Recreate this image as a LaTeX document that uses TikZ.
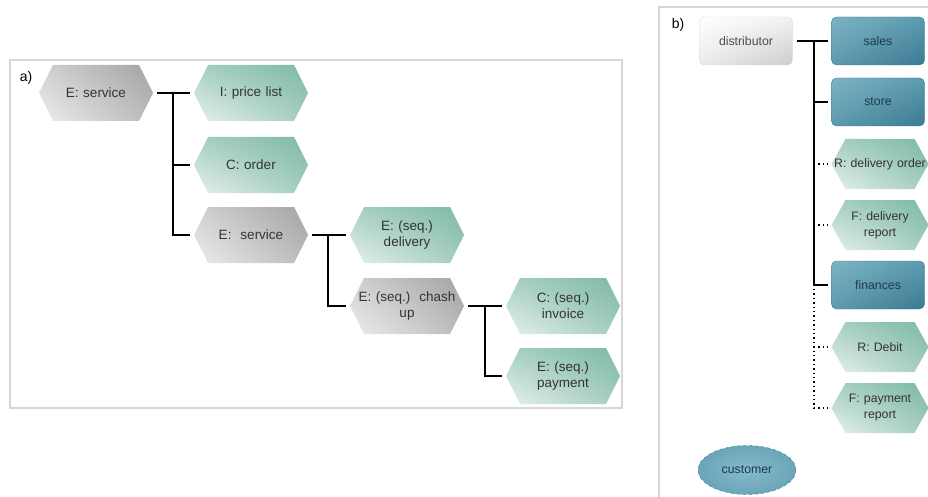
\documentclass[tikz,border=0pt]{standalone}
\usepackage{fontspec}
\setmainfont{Liberation Sans}
\usetikzlibrary{positioning,shapes.geometric,shadings}
\definecolor{epink}{HTML}{333333}
\definecolor{epframe}{HTML}{D6D6D6}
\definecolor{epnavy}{HTML}{1E3A4A}
\definecolor{epgrA}{HTML}{A8D0C2}
\definecolor{epgrB}{HTML}{7DB8A5}
\definecolor{epgrC}{HTML}{E6F1EC}
\definecolor{epgrD}{HTML}{A3CCBE}
\definecolor{epblA}{HTML}{7DB3C4}
\definecolor{epblB}{HTML}{5C9BB0}
\definecolor{epblC}{HTML}{5E9AAE}
\definecolor{epblD}{HTML}{3C7A92}
\definecolor{epbldraw}{HTML}{3E7890}
\definecolor{epcuA}{HTML}{86BACB}
\definecolor{epcuB}{HTML}{6AA5B9}
\tikzset{
  hex shade/.style={},
  ep frame/.style={draw=epframe, line width=1.8pt},
  ep tree/.style={draw=black, line width=1.6pt},
  ep dots/.style={draw=black, line width=1.4pt, dash pattern=on 1.4pt off 3pt},
  ep label/.style={font=\fontsize{14}{16}\selectfont, text=black},
  ep hexa/.style={minimum width=114, minimum height=56, text width=104, align=center,
    inner sep=0pt, outer sep=4pt, text=epink, font=\fontsize{13.5}{16}\selectfont,
    path picture={\shade[hex shade]
      (path picture bounding box.west)
      -- ([xshift=14pt]path picture bounding box.north west)
      -- ([xshift=-14pt]path picture bounding box.north east)
      -- (path picture bounding box.east)
      -- ([xshift=-14pt]path picture bounding box.south east)
      -- ([xshift=14pt]path picture bounding box.south west) -- cycle;}},
  ep hexb/.style={ep hexa, minimum width=97, minimum height=50, text width=97,
    font=\fontsize{12.3}{16}\selectfont},
  ep green/.style={hex shade/.style={upper left=epgrA, upper right=epgrB,
    lower left=epgrC, lower right=epgrD}},
  ep gray/.style={hex shade/.style={upper left=black!18, upper right=black!36,
    lower left=black!7, lower right=black!27}},
  ep box/.style={rectangle, rounded corners=5pt, minimum width=93, minimum height=48,
    inner sep=0pt, outer sep=4pt, font=\fontsize{12.3}{14}\selectfont, text=epnavy,
    draw=epbldraw, line width=0.4pt,
    upper left=epblA, upper right=epblB, lower left=epblC, lower right=epblD}
}

\begin{document}
\begin{tikzpicture}[x=1pt, y=-1pt]
  \useasboundingbox (0,0) rectangle (928,497);
  \clip (0,0) rectangle (928,497);
  % panel a
  \draw[ep frame] (10,60) rectangle (622,408);
  \node[ep label] (la) at (26,78) {a)};
  \node[ep hexa, ep gray] (svc) at (96,93) {E: service};
  \node[ep hexa, ep green] (pl) at (251,93) {I: price list};
  \node[ep hexa, ep green] (ord) at (251,165) {C: order};
  \node[ep hexa, ep gray] (svc2) at (251,235) {E:\ \ service};
  \node[ep hexa, ep green] (dlv) at (407,235) {E: (seq.)\\delivery};
  \node[ep hexa, ep gray] (cash) at (407,306) {E: (seq.)\ \ chash\\up};
  \node[ep hexa, ep green] (inv) at (563,306) {C: (seq.)\\invoice};
  \node[ep hexa, ep green] (pay) at (563,376) {E: (seq.)\\payment};
  \coordinate (ja) at (173,93);
  \coordinate (jb) at (328,235);
  \coordinate (jc) at (485,306);
  \draw[ep tree] (svc) -- (pl);
  \draw[ep tree] (ja) |- (ord);
  \draw[ep tree] (ja) |- (svc2);
  \draw[ep tree] (svc2) -- (dlv);
  \draw[ep tree] (jb) |- (cash);
  \draw[ep tree] (cash) -- (inv);
  \draw[ep tree] (jc) |- (pay);
  % panel b
  \draw[ep frame] (659,510) -- (659,7) -- (940,7);
  \node[ep label] (lb) at (678,25) {b)};
  \node[ep box, draw=black!15, text=black!70, upper left=white, upper right=black!5,
    lower left=black!8, lower right=black!20] (dist) at (746,41) {distributor};
  \node[ep box] (sales) at (878,41) {sales};
  \node[ep box] (store) at (878,102) {store};
  \node[ep hexb, ep green] (rdo) at (880,164) {R: delivery order};
  \node[ep hexb, ep green] (fdr) at (880,225) {F: delivery\\report};
  \node[ep box] (fin) at (878,285) {finances};
  \node[ep hexb, ep green] (rdeb) at (880,347) {R: Debit};
  \node[ep hexb, ep green] (fpr) at (880,408) {F: payment\\report};
  \node[ellipse, minimum width=98, minimum height=49, inner sep=0pt,
    font=\fontsize{12.3}{14}\selectfont, text=epnavy, draw=epbldraw, dashed,
    line width=0.4pt, inner color=epcuA, outer color=epcuB] (cust) at (747,470) {customer};
  \coordinate (jd) at (814,41);
  \draw[ep tree] (dist) -- (sales);
  \draw[ep tree] (jd) |- (store);
  \draw[ep tree] (jd) |- (fin);
  \draw[ep dots] (jd |- rdo) -- (rdo);
  \draw[ep dots] (jd |- fdr) -- (fdr);
  \draw[ep dots] ([yshift=-4pt]jd |- fin) |- (fpr);
  \draw[ep dots] (jd |- rdeb) -- (rdeb);
\end{tikzpicture}
\end{document}
